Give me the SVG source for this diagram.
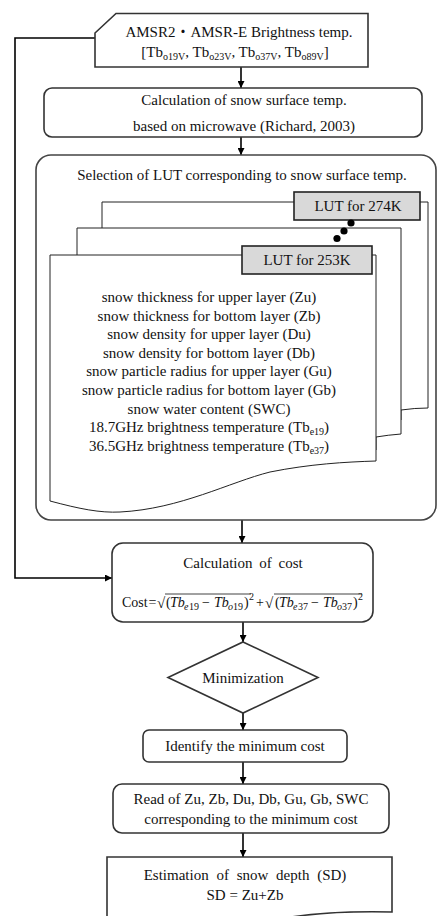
<svg xmlns="http://www.w3.org/2000/svg" width="437" height="916" viewBox="0 0 437 916">
  <style>
    .t { font-family: "Liberation Serif", "Noto Sans CJK JP", serif; fill: #111; text-anchor: middle; font-size: 15px; }
    .s { font-size: 10px; }
    .m { font-family: "Liberation Serif", serif; fill: #111; font-size: 14px; }
    .mi { font-style: italic; }
    .box { fill: #fff; stroke: #333; stroke-width: 1.6; }
    .cont { fill: none; stroke: #444; stroke-width: 1.6; }
    .page { fill: #fff; stroke: #222; stroke-width: 1; }
    .lut { fill: #d9d9d9; stroke: #222; stroke-width: 1.6; }
    .conn { fill: none; stroke: #000; stroke-width: 1.6; }
  </style>
  <defs>
    <marker id="ah" viewBox="0 0 8 8" refX="8" refY="4" markerWidth="7" markerHeight="7" orient="auto" markerUnits="userSpaceOnUse">
      <path d="M0,0 L8,4 L0,8 Z" fill="#000"/>
    </marker>
  </defs>

  <rect width="437" height="916" fill="#fff"/>

  <!-- connectors -->
  <g id="connectors">
    <path class="conn" d="M95,38 H15 V578 H112" marker-end="url(#ah)"/>
    <path class="conn" d="M241,67 V88" marker-end="url(#ah)"/>
    <path class="conn" d="M241,137 V155" marker-end="url(#ah)"/>
    <path class="conn" d="M242,520 V543" marker-end="url(#ah)"/>
    <path class="conn" d="M243,622 V642" marker-end="url(#ah)"/>
    <path class="conn" d="M243,713 V730" marker-end="url(#ah)"/>
    <path class="conn" d="M243,762 V784" marker-end="url(#ah)"/>
    <path class="conn" d="M243,833 V857" marker-end="url(#ah)"/>
  </g>

  <!-- input: brightness temperatures -->
  <g id="input">
    <path class="box" stroke-width="2" d="M95,33 L116,13.5 H368 V67 H95 Z"/>
    <text class="t" x="239" y="37">AMSR2・AMSR-E Brightness temp.</text>
    <text class="t" x="235" y="57">[Tb<tspan class="s" dy="3">o19V</tspan><tspan dy="-3">, Tb</tspan><tspan class="s" dy="3">o23V</tspan><tspan dy="-3">, Tb</tspan><tspan class="s" dy="3">o37V</tspan><tspan dy="-3">, Tb</tspan><tspan class="s" dy="3">o89V</tspan><tspan dy="-3">]</tspan></text>
  </g>

  <!-- snow surface temperature -->
  <g id="surface-temp">
    <rect class="box" x="44" y="88" width="378" height="49" rx="8"/>
    <text class="t" x="244" y="105" font-size="15.8">Calculation of snow surface temp.</text>
    <text class="t" x="244" y="131" font-size="15.8">based on microwave (Richard, 2003)</text>
  </g>

  <!-- LUT selection container -->
  <g id="lut-selection">
    <rect class="cont" x="36" y="155" width="400" height="365" rx="15"/>
    <text class="t" x="242" y="180" font-size="15.5">Selection of LUT corresponding to snow surface temp.</text>

    <g id="lut-274">
      <path class="page" d="M102,202 H428 V408 Q415,408 401,410 V420 H102 Z"/>
      <rect class="lut" x="294" y="192" width="126" height="28"/>
      <text class="t" x="358" y="211">LUT for 274K</text>
    </g>

    <g id="lut-mid">
      <path class="page" d="M77,228 H401 V434 Q388,435 376,437 V450 H77 Z"/>
    </g>

    <g id="ellipsis">
      <circle cx="351" cy="223" r="3.6" fill="#000"/>
      <circle cx="344" cy="231" r="3.6" fill="#000"/>
      <circle cx="337" cy="238.5" r="3.6" fill="#000"/>
    </g>

    <g id="lut-253">
      <path class="page" d="M50,255 H376 V461 C345,462 310,464 270,472 C230,482 180,509 120,512 C100,513 80,509 50,501 Z"/>
      <rect class="lut" x="242" y="246" width="130" height="28"/>
      <text class="t" x="307" y="265">LUT for 253K</text>
      <text class="t" x="209" y="302">snow thickness for upper layer (Zu)</text>
      <text class="t" x="209" y="320.6">snow thickness for bottom layer (Zb)</text>
      <text class="t" x="209" y="339.2">snow density for upper layer (Du)</text>
      <text class="t" x="209" y="357.8">snow density for bottom layer (Db)</text>
      <text class="t" x="209" y="376.4">snow particle radius for upper layer (Gu)</text>
      <text class="t" x="209" y="395">snow particle radius for bottom layer (Gb)</text>
      <text class="t" x="209" y="413.6">snow water content (SWC)</text>
      <text class="t" x="209" y="432.2">18.7GHz brightness temperature (Tb<tspan class="s" dy="3">e19</tspan><tspan dy="-3">)</tspan></text>
      <text class="t" x="209" y="450.8">36.5GHz brightness temperature (Tb<tspan class="s" dy="3">e37</tspan><tspan dy="-3">)</tspan></text>
    </g>
  </g>

  <!-- cost calculation -->
  <g id="cost">
    <rect class="box" x="112" y="543" width="261" height="79" rx="11"/>
    <text class="t" x="243" y="568" font-size="16.5" word-spacing="3">Calculation of cost</text>
    <text class="m">
      <tspan x="122" y="607">Cost</tspan>
      <tspan x="148.5" y="607">=</tspan>
      <tspan x="157" y="608" font-size="15">√</tspan>
      <tspan x="166" y="607">(</tspan>
      <tspan class="mi" x="170" y="607">Tb</tspan>
      <tspan class="mi" x="184" y="610" font-size="10">e</tspan><tspan x="189" y="610" font-size="10">19</tspan>
      <tspan x="202" y="607">−</tspan>
      <tspan class="mi" x="214" y="607">Tb</tspan>
      <tspan class="mi" x="228" y="610" font-size="10">o</tspan><tspan x="233" y="610" font-size="10">19</tspan>
      <tspan x="244" y="607">)</tspan>
      <tspan x="249" y="600" font-size="10">2</tspan>
      <tspan x="256" y="607">+</tspan>
      <tspan x="265" y="608" font-size="15">√</tspan>
      <tspan x="275" y="607">(</tspan>
      <tspan class="mi" x="279" y="607">Tb</tspan>
      <tspan class="mi" x="293" y="610" font-size="10">e</tspan><tspan x="298" y="610" font-size="10">37</tspan>
      <tspan x="311" y="607">−</tspan>
      <tspan class="mi" x="323" y="607">Tb</tspan>
      <tspan class="mi" x="337" y="610" font-size="10">o</tspan><tspan x="342" y="610" font-size="10">37</tspan>
      <tspan x="353" y="607">)</tspan>
      <tspan x="358" y="600" font-size="10">2</tspan>
    </text>
    <path d="M165,594 H251 M274,594 H362" stroke="#111" stroke-width="0.8" fill="none"/>
  </g>

  <!-- minimization -->
  <g id="minimization">
    <path class="box" d="M243,642 L318,677.5 L243,713 L168,677.5 Z"/>
    <text class="t" x="243" y="683" font-size="16">Minimization</text>
  </g>

  <!-- identify minimum -->
  <g id="identify">
    <rect class="box" x="143" y="730" width="204" height="32" rx="6"/>
    <text class="t" x="245" y="751" font-size="16">Identify the minimum cost</text>
  </g>

  <!-- read parameters -->
  <g id="read">
    <rect class="box" x="113" y="784" width="276" height="49" rx="9"/>
    <text class="t" x="251" y="804" font-size="15.5">Read of Zu, Zb, Du, Db, Gu, Gb, SWC</text>
    <text class="t" x="251" y="824" font-size="15.5">corresponding to the minimum cost</text>
  </g>

  <!-- snow depth estimate -->
  <g id="estimate">
    <path class="box" d="M107,857 H392 V912 C350,911 315,913 285,918 H107 Z"/>
    <text class="t" x="245" y="880" font-size="16.5" word-spacing="4">Estimation of snow depth (SD)</text>
    <text class="t" x="245" y="900" font-size="15.5">SD = Zu+Zb</text>
  </g>
</svg>
